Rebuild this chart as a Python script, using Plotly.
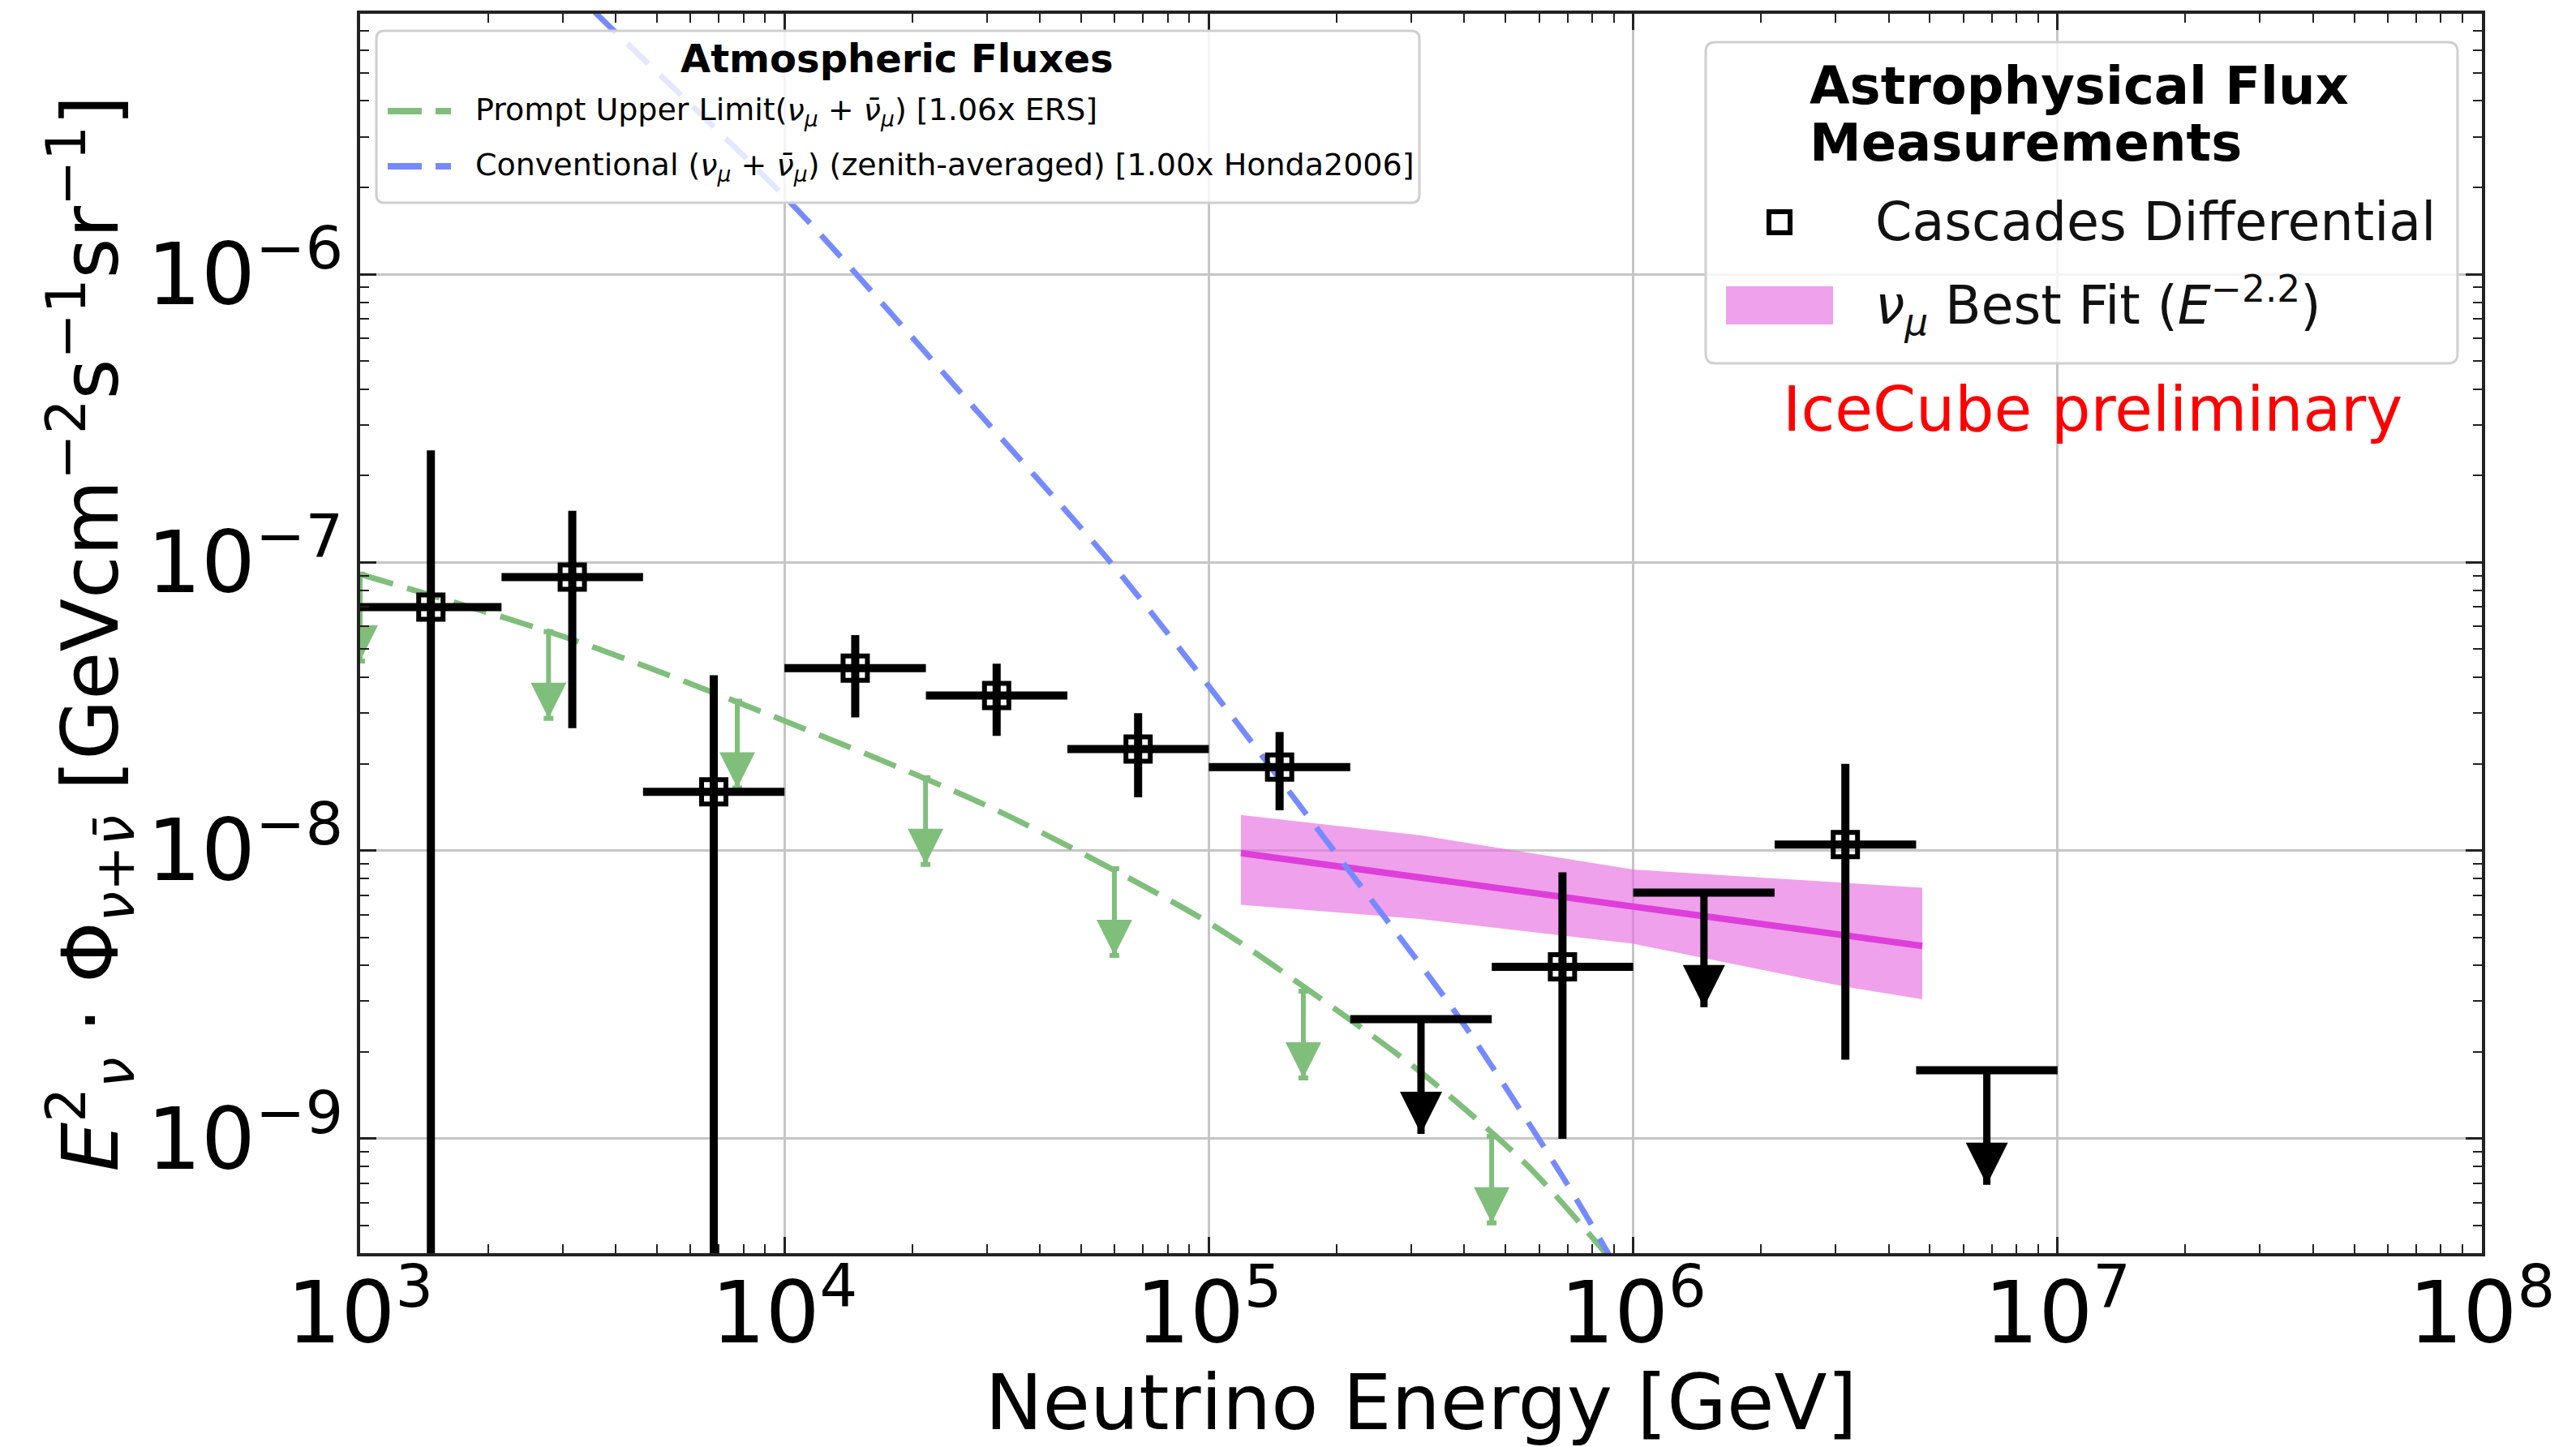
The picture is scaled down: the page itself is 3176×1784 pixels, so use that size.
import plotly.graph_objects as go

FONT = "DejaVu Sans"

# ---- cascade differential unfolding, E^2 * flux [GeV cm^-2 s^-1 sr^-1] ----
meas_energy = [1.468e3, 3.162e3, 6.813e3, 1.468e4, 3.162e4, 6.813e4, 1.468e5, 6.813e5, 3.162e6]
meas_bin_lo = [1.000e3, 2.154e3, 4.642e3, 1.000e4, 2.154e4, 4.642e4, 1.000e5, 4.642e5, 2.154e6]
meas_bin_hi = [2.154e3, 4.642e3, 1.000e4, 2.154e4, 4.642e4, 1.000e5, 2.154e5, 1.000e6, 4.642e6]
meas_flux = [7.0e-8, 8.9e-8, 1.60e-8, 4.3e-8, 3.45e-8, 2.25e-8, 1.95e-8, 3.95e-9, 1.05e-8]
meas_upper = [2.45e-7, 1.51e-7, 4.06e-8, 5.6e-8, 4.45e-8, 3.0e-8, 2.58e-8, 8.4e-9, 2.0e-8]
meas_lower = [0.0, 2.66e-8, 0.0, 2.9e-8, 2.5e-8, 1.53e-8, 1.38e-8, 1.0e-9, 1.88e-9]

# bins where only an upper limit is quoted
lim_energy = [3.162e5, 1.468e6, 6.813e6]
lim_bin_lo = [2.154e5, 1.000e6, 4.642e6]
lim_bin_hi = [4.642e5, 2.154e6, 1.000e7]
lim_flux = [2.6e-9, 7.15e-9, 1.73e-9]

# ---- atmospheric backgrounds ----
prompt_energy = [1.0e3, 3.16e3, 1.0e4, 3.16e4, 1.0e5, 1.78e5, 3.16e5, 5.62e5, 8.5e5, 1.2e6]
prompt_e2flux = [9.1e-8, 5.4e-8, 2.82e-8, 1.38e-8, 5.62e-9, 3.16e-9, 1.70e-9, 8.1e-10, 4.1e-10, 2.2e-10]
# prompt upper-limit arrows
prompt_arrow_energy = [1.0e3, 2.78e3, 7.74e3, 2.15e4, 5.99e4, 1.67e5, 4.64e5]
prompt_arrow_top = [9.1e-8, 5.75e-8, 3.3e-8, 1.79e-8, 8.65e-9, 3.25e-9, 1.02e-9]

conv_energy = [2.51e3, 3.63e3, 1.07e4, 2.77e4, 5.87e4, 1.0e5, 1.97e5, 3.89e5, 6.79e5, 8.71e5, 1.12e6]
conv_e2flux = [1.35e-5, 7.94e-6, 1.68e-6, 3.50e-7, 1.0e-7, 3.72e-8, 1.0e-8, 2.63e-9, 7.46e-10, 4.03e-10, 2.09e-10]

# ---- numu best fit, E^-2.2 ----
fit_energy = [1.19e5, 4.8e6]
fit_e2flux = [9.8e-9, 4.67e-9]
band_energy = [1.19e5, 3.14e5, 1.0e6, 3.16e6, 4.8e6]
band_upper = [1.33e-8, 1.13e-8, 8.6e-9, 7.7e-9, 7.43e-9]
band_lower = [6.49e-9, 5.79e-9, 4.75e-9, 3.37e-9, 3.05e-9]

GREEN = "rgb(128,190,124)"
BLUE = "rgb(118,138,255)"
PINK_FILL = "rgba(230,110,225,0.65)"
MAGENTA = "rgb(222,62,218)"

# plot-area geometry (pixels) used for the hand-drawn legend boxes
W, H = 3176, 1784
L, R, T, B = 444, 3060, 17, 1545


def px(x):
    return (x - L) / (R - L)


def py(y):
    return (B - y) / (B - T)


def rounded_box(x0, y0, x1, y1, r):
    pts = [
        ("M", [(x0 + r, y0)]), ("L", [(x1 - r, y0)]), ("Q", [(x1, y0), (x1, y0 + r)]),
        ("L", [(x1, y1 - r)]), ("Q", [(x1, y1), (x1 - r, y1)]), ("L", [(x0 + r, y1)]),
        ("Q", [(x0, y1), (x0, y1 - r)]), ("L", [(x0, y0 + r)]), ("Q", [(x0, y0), (x0 + r, y0)]),
    ]
    s = ""
    for cmd, coords in pts:
        s += cmd + " ".join(f"{px(a):.5f},{py(b):.5f}" for a, b in coords) + " "
    return s + "Z"


fig = go.Figure()

# best-fit band and line
fig.add_trace(go.Scatter(
    x=band_energy + band_energy[::-1], y=band_upper + band_lower[::-1],
    fill="toself", fillcolor=PINK_FILL, line=dict(width=0), mode="lines",
    hoverinfo="skip", showlegend=False))
fig.add_trace(go.Scatter(
    x=fit_energy, y=fit_e2flux, mode="lines", line=dict(color=MAGENTA, width=8),
    showlegend=False))

# atmospheric curves
fig.add_trace(go.Scatter(
    x=prompt_energy, y=prompt_e2flux, mode="lines",
    line=dict(color=GREEN, width=7, dash="42px,18px", shape="spline", smoothing=0.8),
    showlegend=False))
fig.add_trace(go.Scatter(
    x=conv_energy, y=conv_e2flux, mode="lines",
    line=dict(color=BLUE, width=7, dash="36px,20px", shape="spline", smoothing=0.8),
    showlegend=False))

# prompt upper-limit arrows (arrow length: factor 2 down)
p_tip = [v * 0.5 for v in prompt_arrow_top]
p_stem = [t - v for t, v in zip(prompt_arrow_top, p_tip)]
fig.add_trace(go.Scatter(
    x=prompt_arrow_energy, y=p_tip, mode="markers",
    marker=dict(symbol="arrow-down", size=44, color=GREEN, line=dict(width=0)),
    error_y=dict(type="data", symmetric=False, array=p_stem,
                 arrayminus=[0] * len(p_stem), color=GREEN, thickness=6, width=6),
    showlegend=False))

# cascade upper limits: bin bar + downward arrow
fig.add_trace(go.Scatter(
    x=lim_energy, y=lim_flux, mode="markers",
    marker=dict(size=1, color="rgba(0,0,0,0)"),
    error_x=dict(type="data", symmetric=False,
                 array=[h - c for h, c in zip(lim_bin_hi, lim_energy)],
                 arrayminus=[c - l for c, l in zip(lim_energy, lim_bin_lo)],
                 color="black", thickness=10, width=0),
    showlegend=False))
l_tip = [v * 0.4 for v in lim_flux]
fig.add_trace(go.Scatter(
    x=lim_energy, y=l_tip, mode="markers",
    marker=dict(symbol="arrow-down", size=52, color="black", line=dict(width=0)),
    error_y=dict(type="data", symmetric=False,
                 array=[v - t for v, t in zip(lim_flux, l_tip)],
                 arrayminus=[0] * len(l_tip), color="black", thickness=9, width=0),
    showlegend=False))

# cascade measurements
fig.add_trace(go.Scatter(
    x=meas_energy, y=meas_flux, mode="markers",
    marker=dict(symbol="square-open", size=30, color="black", line=dict(width=6, color="black")),
    error_x=dict(type="data", symmetric=False,
                 array=[h - c for h, c in zip(meas_bin_hi, meas_energy)],
                 arrayminus=[c - l for c, l in zip(meas_energy, meas_bin_lo)],
                 color="black", thickness=10, width=0),
    error_y=dict(type="data", symmetric=False,
                 array=[u - v for u, v in zip(meas_upper, meas_flux)],
                 arrayminus=[v - max(lo, 1e-15) for v, lo in zip(meas_flux, meas_lower)],
                 color="black", thickness=10, width=0),
    showlegend=False))

axis_common = dict(
    type="log", dtick=1, exponentformat="power",
    showgrid=True, gridcolor="#c6c6c6", gridwidth=3,
    ticks="inside", ticklen=20, tickwidth=3, tickcolor="#222",
    mirror="allticks", showline=True, linecolor="#222", linewidth=4,
    minor=dict(ticks="inside", ticklen=11, tickwidth=2, tickcolor="#222", dtick="D1", showgrid=False),
    tickfont=dict(family=FONT, size=84, color="black"),
    automargin=False, zeroline=False,
)

fig.update_xaxes(**axis_common, range=[3, 8], ticklabelstandoff=-16,
                 title=dict(text="Neutrino Energy [GeV]", font=dict(family=FONT, size=95, color="black"),
                            standoff=30))
fig.update_yaxes(**axis_common, range=[-9.397, -5.096],
                 title=dict(text="<i>E</i><sup>2</sup><sub><i>ν</i></sub> · Φ<sub><i>ν</i>+<i>ν̄</i></sub>"
                                 " [GeVcm<sup>−2</sup>s<sup>−1</sup>sr<sup>−1</sup>]",
                            font=dict(family=FONT, size=96, color="black"), standoff=4))

shapes = []
annotations = []

# legend box: atmospheric fluxes
shapes.append(dict(type="path", xref="paper", yref="paper", path=rounded_box(464, 38, 1750, 250, 10),
                   line=dict(color="#cfcfcf", width=3), fillcolor="rgba(255,255,255,0.8)", layer="above"))
annotations.append(dict(x=px(1106), y=py(72), text="<b>Atmospheric Fluxes</b>",
                        font=dict(family=FONT, size=48, color="black"), xanchor="center", yanchor="middle"))
shapes.append(dict(type="line", xref="paper", yref="paper", x0=px(478), x1=px(556), y0=py(137), y1=py(137),
                   line=dict(color=GREEN, width=8, dash="42px,17px")))
annotations.append(dict(x=px(584), y=py(137),
                        text="Prompt Upper Limit(<i>ν</i><sub><i>μ</i></sub> + <i>ν̄</i><sub><i>μ</i></sub>) [1.06x ERS]",
                        font=dict(family=FONT, size=38, color="black"), xanchor="left", yanchor="middle"))
shapes.append(dict(type="line", xref="paper", yref="paper", x0=px(478), x1=px(556), y0=py(205), y1=py(205),
                   line=dict(color=BLUE, width=8, dash="42px,17px")))
annotations.append(dict(x=px(584), y=py(205),
                        text="Conventional (<i>ν</i><sub><i>μ</i></sub> + <i>ν̄</i><sub><i>μ</i></sub>)"
                             " (zenith-averaged) [1.00x Honda2006]",
                        font=dict(family=FONT, size=38, color="black"), xanchor="left", yanchor="middle"))

# legend box: astrophysical measurements
shapes.append(dict(type="path", xref="paper", yref="paper", path=rounded_box(2103, 52, 3030, 448, 12),
                   line=dict(color="#cfcfcf", width=3), fillcolor="rgba(255,255,255,0.8)", layer="above"))
annotations.append(dict(x=px(2229), y=py(106), text="<b>Astrophysical Flux</b>",
                        font=dict(family=FONT, size=64, color="black"), xanchor="left", yanchor="middle"))
annotations.append(dict(x=px(2229), y=py(176), text="<b>Measurements</b>",
                        font=dict(family=FONT, size=64, color="black"), xanchor="left", yanchor="middle"))
shapes.append(dict(type="rect", xref="paper", yref="paper", x0=px(2181), x1=px(2207), y0=py(261), y1=py(287),
                   line=dict(color="black", width=6), fillcolor="rgba(0,0,0,0)"))
annotations.append(dict(x=px(2310), y=py(274), text="Cascades Differential",
                        font=dict(family=FONT, size=65, color="#111"), xanchor="left", yanchor="middle"))
shapes.append(dict(type="rect", xref="paper", yref="paper", x0=px(2128), x1=px(2260), y0=py(353), y1=py(400),
                   line=dict(width=0), fillcolor=PINK_FILL))
annotations.append(dict(x=px(2310), y=py(377),
                        text="<i>ν</i><sub><i>μ</i></sub> Best Fit (<i>E</i><sup>−2.2</sup>)",
                        font=dict(family=FONT, size=65, color="#111"), xanchor="left", yanchor="middle"))
annotations.append(dict(x=px(2580), y=py(504), text="IceCube preliminary",
                        font=dict(family=FONT, size=76, color="red"), xanchor="center", yanchor="middle"))

for a in annotations:
    a.update(xref="paper", yref="paper", showarrow=False)

fig.update_layout(
    width=W, height=H,
    margin=dict(l=L, r=W - R, t=T, b=H - B, autoexpand=False),
    paper_bgcolor="white", plot_bgcolor="white",
    font=dict(family=FONT, color="black"),
    showlegend=False,
    shapes=shapes, annotations=annotations,
)

fig.write_html("out.html")
